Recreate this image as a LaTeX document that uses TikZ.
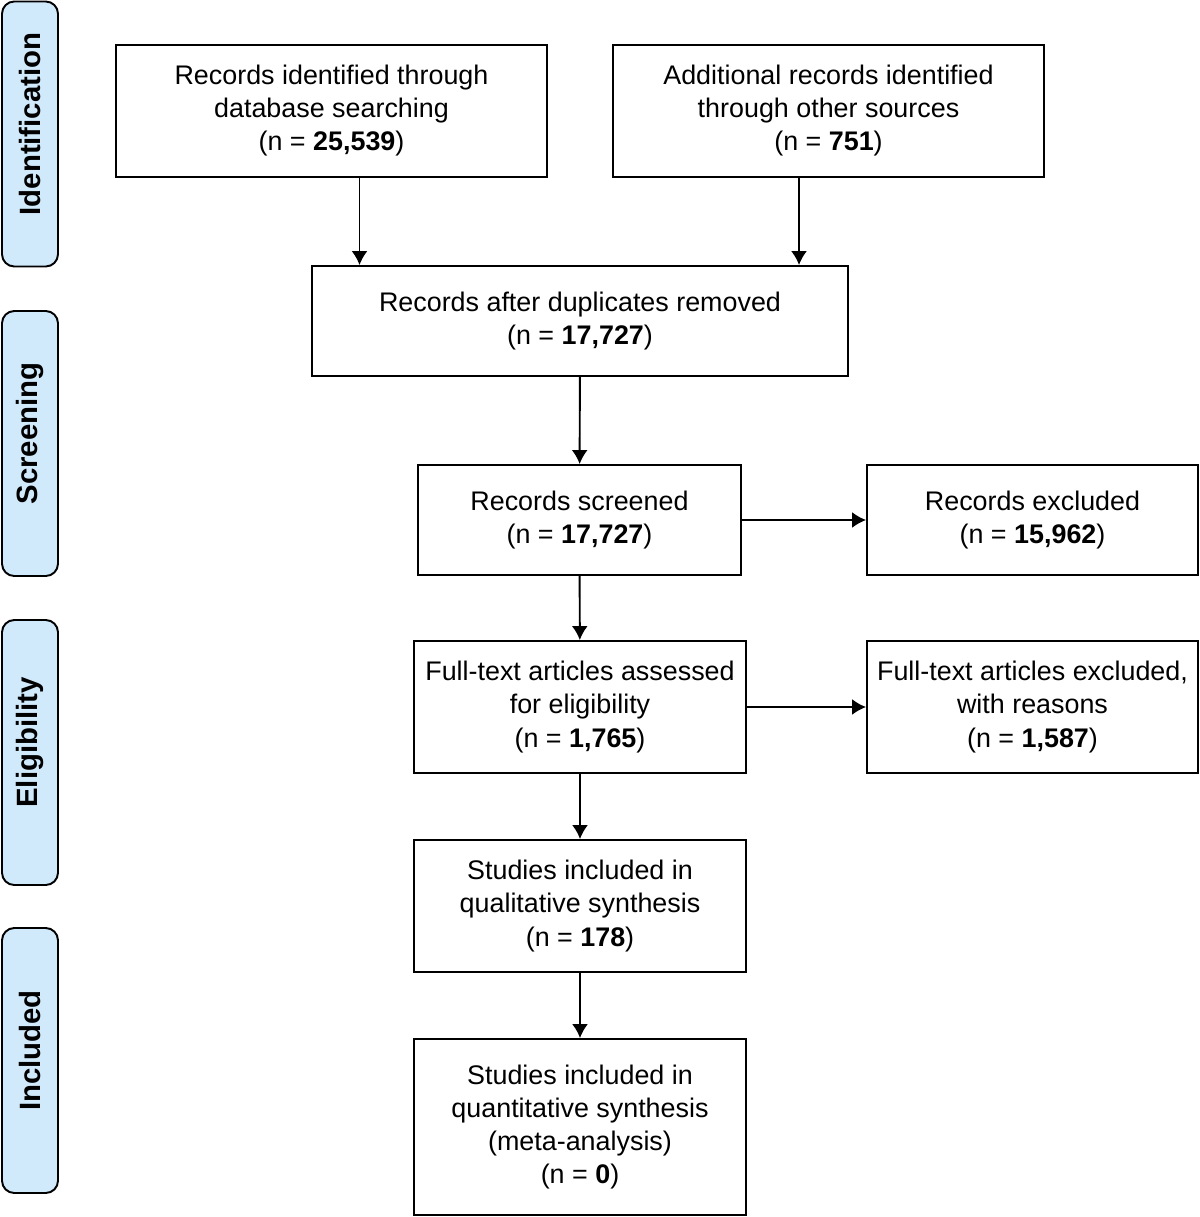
\documentclass[tikz,border=0pt]{standalone}
\usepackage{fontspec}
\setmainfont{Liberation Sans}
\usetikzlibrary{positioning,calc,arrows.meta}
\definecolor{phasefill}{RGB}{208,234,252}
\tikzset{%
  every phase/.style={draw,rounded corners=7pt,fill=phasefill,line width=1.1pt,rotate=90,
    minimum width=5.3cm,minimum height=1.12cm,inner sep=0pt,
    font=\fontsize{16.7}{20}\selectfont\bfseries,
    execute at begin node=\hspace*{0.4cm}},
  every record/.style={draw,line width=1.1pt,align=center,inner sep=2pt,
    font=\fontsize{15.3}{18.8}\selectfont},
}

\begin{document}
\begin{tikzpicture}[
            phase/.style={every phase},
            record/.style={every record},
            wide/.style={minimum width=8.62cm,minimum height=2.64cm},
            small/.style={minimum width=6.62cm,minimum height=2.2cm},
            tall/.style={minimum width=6.64cm,minimum height=2.64cm},
            >={Latex[length=2.8mm,width=3.2mm]},
            link/.style={->,line width=1.1pt}
            ]
            \useasboundingbox (0,0) rectangle (24,-24.34);

            \node[phase] (identification) at (0.6,-2.68)  {Identification};
            \node[phase] (screening)      at (0.6,-8.87)  {Screening};
            \node[phase] (eligibility)    at (0.6,-15.05) {Eligibility};
            \node[phase] (included)       at (0.6,-21.21) {Included};

            \node[record,wide] (database) at (6.63,-2.22)
              {Records identified through\\database searching\\(n = \textbf{25,539})};
            \node[record,wide] (other) at (16.57,-2.22)
              {Additional records identified\\through other sources\\(n = \textbf{751})};
            \node[record,minimum width=10.72cm,minimum height=2.2cm] (dupes) at (11.6,-6.42)
              {Records after duplicates removed\\(n = \textbf{17,727})};
            \node[record,small,minimum width=6.46cm] (screened) at (11.59,-10.4)
              {Records screened\\(n = \textbf{17,727})};
            \node[record,small] (excluded) at (20.65,-10.4)
              {Records excluded\\(n = \textbf{15,962})};
            \node[record,tall] (fulltext) at (11.6,-14.14)
              {Full-text articles assessed\\for eligibility\\(n = \textbf{1,765})};
            \node[record,tall,minimum width=6.62cm] (reasons) at (20.65,-14.14)
              {Full-text articles excluded,\\with reasons\\(n = \textbf{1,587})};
            \node[record,tall] (qualitative) at (11.6,-18.12)
              {Studies included in\\qualitative synthesis\\(n = \textbf{178})};
            \node[record,tall,minimum height=3.52cm] (quantitative) at (11.6,-22.54)
              {Studies included in\\quantitative synthesis\\(meta-analysis)\\(n = \textbf{0})};

            \draw[link] ([xshift=0.56cm]database.south) -- ([xshift=0.56cm]database.south |- dupes.north);
            \draw[link] ([xshift=-0.59cm]other.south) -- ([xshift=-0.59cm]other.south |- dupes.north);
            \draw[link] (dupes) -- (screened);
            \draw[link] (screened) -- (excluded);
            \draw[link] (screened) -- (fulltext);
            \draw[link] (fulltext) -- (reasons);
            \draw[link] (fulltext) -- (qualitative);
            \draw[link] (qualitative) -- (quantitative);
        \end{tikzpicture}
\end{document}
